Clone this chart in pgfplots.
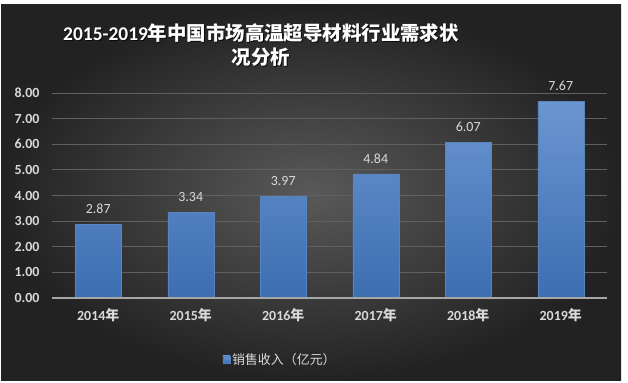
\documentclass[border=0pt]{standalone}
\usepackage{pgfplots}
\pgfplotsset{compat=1.18}
\usepackage{fontspec}
\setmainfont{Carlito}
\newfontfamily\cjk{Noto Sans CJK SC}
\definecolor{bgin}{HTML}{595959}
\definecolor{bgout}{HTML}{222222}
\definecolor{bartop}{HTML}{6B95D0}
\definecolor{barbot}{HTML}{3C6EB2}
\definecolor{lbl}{HTML}{D9D9D9}
\definecolor{gridc}{HTML}{606060}
\begin{document}
\begin{tikzpicture}
\path[use as bounding box] (0bp,0bp) rectangle (628bp,383bp);
\fill[white] (0bp,0bp) rectangle (628bp,383bp);
\shade[inner color=bgin, outer color=bgout] (1bp,2bp) rectangle (621bp,378bp);
\node[font=\fontsize{19.5}{24}\selectfont\bfseries, text=black, align=center, opacity=0.7] at (262bp,337bp) {2015-2019{\cjk 年中国市场高温超导材料行业需求状}\\{\cjk 况分析}};
\node[font=\fontsize{19.5}{24}\selectfont\bfseries, text=white, align=center] at (261bp,338bp) {2015-2019{\cjk 年中国市场高温超导材料行业需求状}\\{\cjk 况分析}};
\begin{axis}[
  at={(52bp,85bp)}, anchor=south west,
  width=555bp, height=205bp, scale only axis,
  xmin=-0.5, xmax=5.5, ymin=0, ymax=8,
  ytick={0,1,...,8},
  xtick=data,
  xticklabels={2014{\cjk 年},2015{\cjk 年},2016{\cjk 年},2017{\cjk 年},2018{\cjk 年},2019{\cjk 年}},
  axis line style={draw=none},
  tick style={draw=none},
  ymajorgrids, xmajorgrids=false, grid style={draw=gridc, line width=1bp},
  yticklabel style={font=\fontsize{14}{16}\selectfont\bfseries, text=lbl, xshift=-9bp},
  xticklabel style={font=\fontsize{14}{16}\selectfont\bfseries, text=lbl, yshift=-7bp},
  /pgf/number format/assume math mode=true,
  yticklabel={\pgfmathprintnumber[fixed,fixed zerofill,precision=2]{\tick}},
  nodes near coords={\pgfmathprintnumber[fixed,fixed zerofill,precision=2]{\pgfplotspointmeta}},
  nodes near coords style={font=\fontsize{14}{16}\selectfont, text=lbl, yshift=7bp},
  legend style={at={(0.411,-0.30)}, anchor=center, draw=none, fill=none,
    font=\fontsize{13}{15}\selectfont\cjk, text=lbl, inner sep=0pt},
  legend image code/.code={\fill[barbot!60!bartop] (0bp,-3.5bp) rectangle (7bp,3.5bp);},
  clip=false,
]
\addplot[ybar, bar width=46bp, draw=barbot!85!white, line width=0.5bp,
  shading=axis, top color=bartop, bottom color=barbot]
  coordinates {(0,2.87) (1,3.34) (2,3.97) (3,4.84) (4,6.07) (5,7.67)};
\addlegendentry{销售收入（亿元）}
\draw[color=gray!70, line width=1.5bp] (axis cs:-0.5,0) -- (axis cs:5.5,0);
\end{axis}
\end{tikzpicture}
\end{document}
